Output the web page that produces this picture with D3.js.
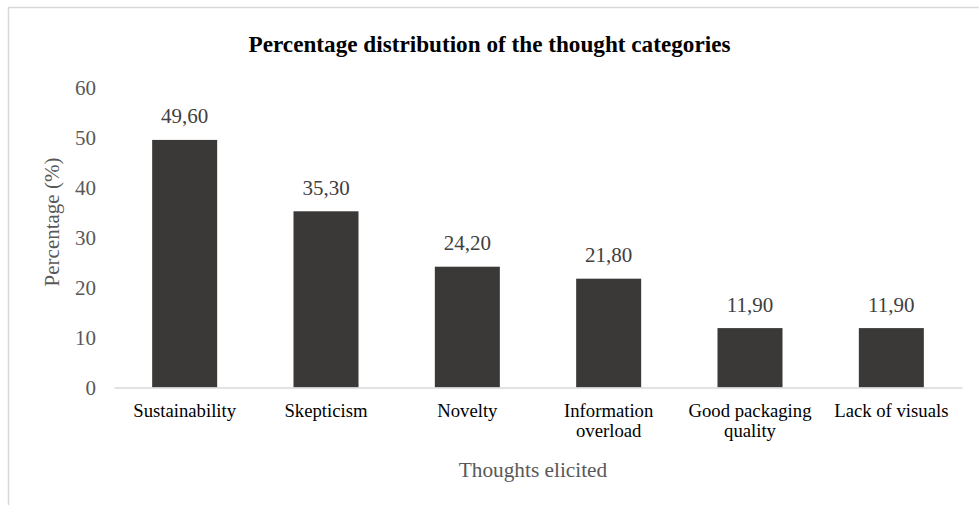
<!DOCTYPE html>
<html>
<head>
<meta charset="utf-8">
<script src="https://cdn.jsdelivr.net/npm/d3@7/dist/d3.min.js"></script>
<style>
  html, body { margin: 0; padding: 0; background: #ffffff; }
  svg text { font-family: "Liberation Serif", "Times New Roman", serif !important; }
</style>
</head>
<body>
<svg id="chart" width="979" height="505"></svg>
<script>
// Thought categories and their share of all elicited thoughts (%)
const categories = ["Sustainability", "Skepticism", "Novelty", "Information overload", "Good packaging quality", "Lack of visuals"];
const percentages = [49.6, 35.3, 24.2, 21.8, 11.9, 11.9];
const yTicks = [0, 10, 20, 30, 40, 50, 60];

const chartTitle = "Percentage distribution of the thought categories";
const xTitle = "Thoughts elicited";
const yTitle = "Percentage (%)";

const W = 979, H = 505;
const margin = { left: 114, right: 17, top: 88, bottom: 118 };

const svg = d3.select("#chart");

// Chart frame
svg.append("rect")
  .attr("x", 8.5).attr("y", 7.5)
  .attr("width", W + 20).attr("height", H + 20)
  .attr("fill", "#ffffff")
  .attr("stroke", "#d9d9d9")
  .attr("stroke-width", 1.5);

const x = d3.scaleBand()
  .domain(categories)
  .range([margin.left, W - margin.right])
  .paddingInner(0.54)
  .paddingOuter(0.27);

const y = d3.scaleLinear()
  .domain([0, 60])
  .range([H - margin.bottom + 0.5, margin.top]);

// Title
svg.append("text")
  .attr("x", W / 2)
  .attr("y", 52)
  .attr("text-anchor", "middle")
  .attr("font-size", 23.2)
  .attr("font-weight", "bold")
  .attr("fill", "#000000")
  .text(chartTitle);

// Bars
svg.append("g")
  .selectAll("rect")
  .data(percentages)
  .join("rect")
  .attr("x", (d, i) => x(categories[i]))
  .attr("y", d => y(d))
  .attr("width", x.bandwidth())
  .attr("height", d => y(0) - y(d))
  .attr("fill", "#3b3938");

// Value labels
const fmt = d => d.toFixed(2).replace(".", ",");
svg.append("g")
  .selectAll("text")
  .data(percentages)
  .join("text")
  .attr("x", (d, i) => x(categories[i]) + x.bandwidth() / 2)
  .attr("y", d => y(d) - 16.5)
  .attr("text-anchor", "middle")
  .attr("font-size", 21)
  .attr("fill", "#404040")
  .text(fmt);

// Y axis (labels only)
const yAxis = d3.axisLeft(y).tickValues(yTicks).tickSize(0).tickPadding(18);
const gy = svg.append("g")
  .attr("transform", `translate(${margin.left},0)`)
  .call(yAxis);
gy.select(".domain").remove();
gy.selectAll("text")
  .attr("font-size", 21)
  .attr("fill", "#595959")
  .attr("dy", "0.33em");

// X axis baseline and category labels
const xAxis = d3.axisBottom(x).tickSize(0).tickSizeOuter(0).tickPadding(0);
const gx = svg.append("g")
  .attr("transform", `translate(0,${y(0)})`)
  .call(xAxis);
gx.select(".domain")
  .attr("stroke", "#d9d9d9")
  .attr("stroke-width", 1.5);

function wrapLabel(sel, width) {
  sel.each(function () {
    const t = d3.select(this);
    const words = t.text().split(/\s+/);
    const lines = [];
    let line = [];
    t.text(null);
    const probe = t.append("tspan");
    words.forEach(w => {
      line.push(w);
      probe.text(line.join(" "));
      if (probe.node().getComputedTextLength() > width && line.length > 1) {
        line.pop();
        lines.push(line.join(" "));
        line = [w];
      }
    });
    lines.push(line.join(" "));
    probe.remove();
    lines.forEach((l, i) => {
      t.append("tspan")
        .attr("x", 0)
        .attr("y", 0)
        .attr("dy", 29 + i * 20.5)
        .text(l);
    });
  });
}

gx.selectAll("text")
  .attr("font-size", 18.7)
  .attr("fill", "#000000")
  .call(wrapLabel, 126);

// Axis titles
svg.append("text")
  .attr("x", 533)
  .attr("y", 477)
  .attr("text-anchor", "middle")
  .attr("font-size", 21.3)
  .attr("fill", "#595959")
  .text(xTitle);

svg.append("text")
  .attr("transform", "translate(59,222) rotate(-90)")
  .attr("text-anchor", "middle")
  .attr("font-size", 21)
  .attr("fill", "#595959")
  .text(yTitle);
</script>
</body>
</html>
